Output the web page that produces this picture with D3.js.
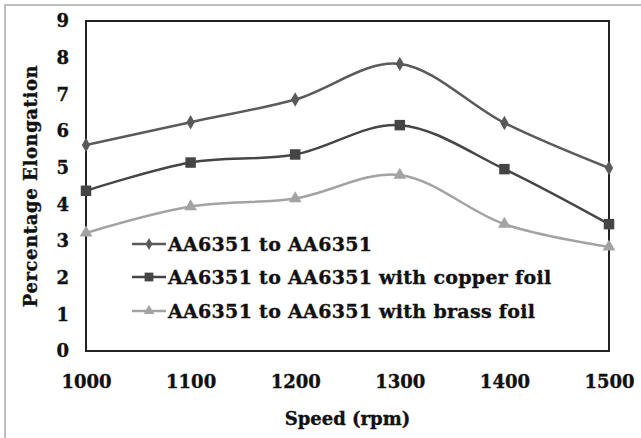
<!DOCTYPE html>
<html lang="en">
<head>
  <meta charset="UTF-8">
  <title>Percentage Elongation vs Speed</title>
  <script src="https://d3js.org/d3.v7.min.js"></script>
  <style>
    body {
      margin: 0;
      padding: 0;
      background: #fff;
    }
    text {
      font-family: "DejaVu Serif", serif;
      font-weight: bold;
      fill: #111;
      stroke: #111;
      stroke-width: 0.35px;
    }
  </style>
</head>
<body>
  <div id="chart"></div>
  <script>
    const width = 641;
    const height = 438;

    // chart data
    const speeds = [1000, 1100, 1200, 1300, 1400, 1500];
    const yTicks = [0, 1, 2, 3, 4, 5, 6, 7, 8, 9];
    const plainJoint = [5.62, 6.24, 6.86, 7.83, 6.22, 4.99];
    const copperFoil = [4.37, 5.14, 5.36, 6.16, 4.96, 3.46];
    const brassFoil = [3.22, 3.94, 4.16, 4.80, 3.46, 2.84];
    const seriesNames = [
      "AA6351 to AA6351",
      "AA6351 to AA6351 with copper foil",
      "AA6351 to AA6351 with brass foil"
    ];

    const series = [
      { name: seriesNames[0], values: plainJoint, color: "#5a5a5a", symbol: d3.symbolDiamond, size: 60 },
      { name: seriesNames[1], values: copperFoil, color: "#454545", symbol: d3.symbolSquare, size: 110 },
      { name: seriesNames[2], values: brassFoil, color: "#a3a3a3", symbol: d3.symbolTriangle, size: 70 }
    ];

    const margin = { top: 21, right: 32, bottom: 87, left: 86 };
    const plotW = width - margin.left - margin.right;
    const plotH = height - margin.top - margin.bottom;

    const svg = d3.select("#chart")
      .append("svg")
      .attr("width", width)
      .attr("height", height);

    // outer chart frame (only top and left edges show)
    svg.append("rect")
      .attr("x", 5)
      .attr("y", 5)
      .attr("width", width + 20)
      .attr("height", height + 20)
      .attr("fill", "none")
      .attr("stroke", "#bdbdbd")
      .attr("stroke-width", 2);

    const g = svg.append("g")
      .attr("transform", `translate(${margin.left},${margin.top})`);

    const x = d3.scaleLinear()
      .domain([1000, 1500])
      .range([0, plotW]);

    const y = d3.scaleLinear()
      .domain([0, 9])
      .range([plotH, 0]);

    // plot box
    g.append("rect")
      .attr("width", plotW)
      .attr("height", plotH)
      .attr("fill", "none")
      .attr("stroke", "#222")
      .attr("stroke-width", 2);

    // y axis labels
    const yAxis = g.append("g")
      .call(d3.axisLeft(y).tickValues(yTicks).tickSize(0).tickPadding(17).tickFormat(d3.format("d")));
    yAxis.select(".domain").remove();
    yAxis.selectAll("text")
      .style("font-size", "18px")
      .style("font-family", "DejaVu Serif")
      .attr("fill", "#111");

    // x axis labels
    const xAxis = g.append("g")
      .attr("transform", `translate(0,${plotH})`)
      .call(d3.axisBottom(x).tickValues(speeds).tickSize(0).tickPadding(24).tickFormat(d3.format("d")));
    xAxis.select(".domain").remove();
    xAxis.selectAll("text")
      .style("font-size", "18px")
      .style("font-family", "DejaVu Serif")
      .attr("fill", "#111");

    // axis titles
    svg.append("text")
      .attr("x", margin.left + plotW / 2)
      .attr("y", 425)
      .attr("text-anchor", "middle")
      .style("font-size", "18px")
      .text("Speed (rpm)");

    svg.append("text")
      .attr("transform", "translate(37,186) rotate(-90)")
      .attr("text-anchor", "middle")
      .style("font-size", "18px")
      .style("letter-spacing", "0.6px")
      .text("Percentage Elongation");

    const line = d3.line()
      .x((d, i) => x(speeds[i]))
      .y(d => y(d))
      .curve(d3.curveCatmullRom.alpha(0));

    series.forEach(s => {
      g.append("path")
        .datum(s.values)
        .attr("d", line)
        .attr("fill", "none")
        .attr("stroke", s.color)
        .attr("stroke-width", 2.5);

      g.selectAll(null)
        .data(s.values)
        .join("path")
        .attr("transform", (d, i) => `translate(${x(speeds[i])},${y(d)})`)
        .attr("d", d3.symbol().type(s.symbol).size(s.size))
        .attr("fill", s.color);
    });

    // legend
    const legendY = [244, 277, 311];
    const legend = svg.append("g");
    series.forEach((s, i) => {
      const row = legend.append("g")
        .attr("transform", `translate(132,${legendY[i]})`);
      row.append("line")
        .attr("x1", 0)
        .attr("x2", 34)
        .attr("stroke", s.color)
        .attr("stroke-width", 2.5);
      row.append("path")
        .attr("transform", "translate(17,0)")
        .attr("d", d3.symbol().type(s.symbol).size(s.size * 0.7))
        .attr("fill", s.color);
      row.append("text")
        .attr("x", 36)
        .attr("dy", "0.35em")
        .style("font-size", "19px")
        .style("letter-spacing", "0.3px")
        .text(s.name);
    });
  </script>
</body>
</html>
